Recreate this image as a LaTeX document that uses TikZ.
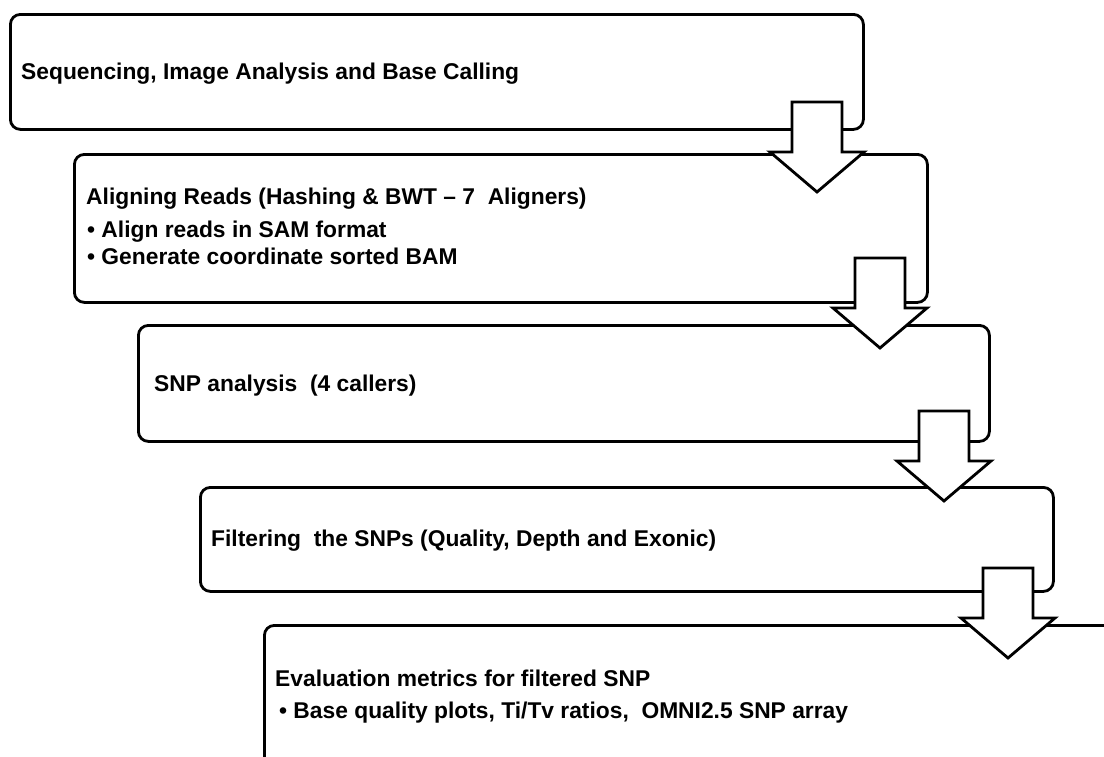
\documentclass[tikz,border=0pt]{standalone}
\usepackage{fontspec}
\setmainfont{Liberation Sans}
\begin{document}
\begin{tikzpicture}[x=1pt,y=-1pt,
  stage/.style={draw=black, line width=2.8pt, rounded corners=10pt, fill=white, anchor=north west, inner sep=0pt},
  lbl/.style={anchor=base west, inner sep=0pt, font=\bfseries\fontsize{22.8}{27}\selectfont},
  blockarrow/.style={draw=black, line width=2.8pt, fill=white, line join=miter},
  pics/downarrow/.style={code={\draw[blockarrow] (-25,0) -- (25,0) -- (25,50) -- (47,50) -- (0,90) -- (-47,50) -- (-25,50) -- cycle;}}]
\useasboundingbox (0,0) rectangle (1104,756);
\clip (0,0) rectangle (1104,756);
% stage boxes
\node[stage, minimum width=853pt, minimum height=115pt] (s1) at (9,13) {};
\node[stage, minimum width=853pt, minimum height=148pt] (s2) at (73,153) {};
\node[stage, minimum width=851pt, minimum height=116pt] (s3) at (137,324) {};
\node[stage, minimum width=853pt, minimum height=104pt] (s4) at (199,486) {};
\node[stage, minimum width=860pt, minimum height=160pt] (s5) at (263,624) {};
% labels
\node[lbl] (t1) at (21,79) {Sequencing, Image Analysis and Base Calling};
\node[lbl] (t2) at (86,204) {Aligning Reads (Hashing \& BWT – 7~ Aligners)};
\node[lbl] (t2a) at (87,237) {•~Align reads in SAM format};
\node[lbl] (t2b) at (87,264) {•~Generate coordinate sorted BAM};
\node[lbl] (t3) at (154,391) {SNP analysis~ (4 callers)};
\node[lbl] (t4) at (211,546) {Filtering~ the SNPs (Quality, Depth and Exonic)};
\node[lbl] (t5) at (275,686) {Evaluation metrics for filtered SNP};
\node[lbl] (t5a) at (279,718) {•~Base quality plots, Ti/Tv ratios,~ OMNI2.5 SNP array};
% block arrows between stages
\pic (a1) at (817,102) {downarrow};
\pic (a2) at (880,258) {downarrow};
\pic (a3) at (944,411) {downarrow};
\pic (a4) at (1008,568) {downarrow};
\end{tikzpicture}
\end{document}
